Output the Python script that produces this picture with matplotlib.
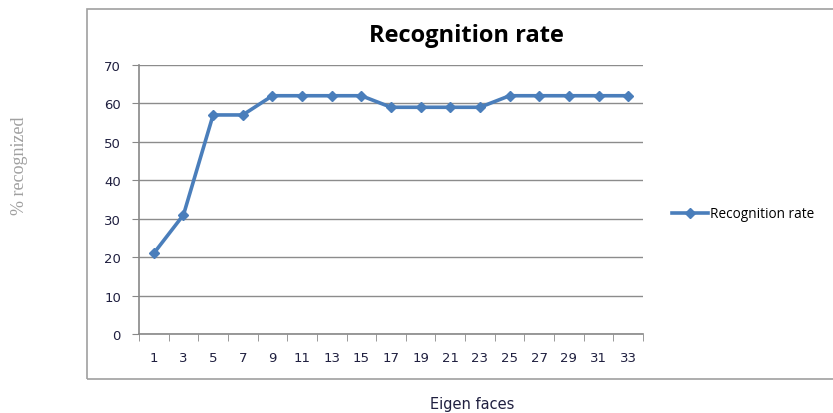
import matplotlib.pyplot as plt
from matplotlib.patches import Rectangle

eigen_faces = [1, 3, 5, 7, 9, 11, 13, 15, 17, 19, 21, 23, 25, 27, 29, 31, 33]
recognition = [21, 31, 57, 57, 62, 62, 62, 62, 59, 59, 59, 59, 62, 62, 62, 62, 62]
y_ticks = [0, 10, 20, 30, 40, 50, 60, 70]

W, H = 833, 414
fig = plt.figure(figsize=(W / 100, H / 100), dpi=100)

# outer chart border (runs off the right edge)
fig.patches.append(Rectangle((87 / W, 1 - 380 / H), 760 / W, 370 / H,
                             transform=fig.transFigure, fill=False,
                             edgecolor="#a0a0a0", lw=1.2))

ax = fig.add_axes([139 / W, 1 - 335 / H, 504 / W, 269 / H])
line_color = "#4a7ebb"
ax.plot(eigen_faces, recognition, color=line_color, lw=2.6, marker="D",
        markersize=5.5, label="Recognition rate", clip_on=False, zorder=3)

ax.set_xlim(0, 34)
ax.set_ylim(0, 70)
ax.set_yticks(y_ticks)
ax.set_xticks(eigen_faces)
ax.set_xticks(range(0, 35, 2), minor=True)
ax.tick_params(axis="x", which="major", length=0, pad=12,
               labelsize=9.5, labelcolor="#202040")
ax.tick_params(axis="x", which="minor", length=5, color="#888888",
               direction="out")
ax.tick_params(axis="y", length=5, color="#888888", labelsize=9.5,
               labelcolor="#202040", pad=8)
for tl in ax.get_xticklabels() + ax.get_yticklabels():
    tl.set_family("DejaVu Sans")

ax.grid(axis="y", color="#8c8c8c", lw=1)
ax.set_axisbelow(True)
for s in ["top", "right"]:
    ax.spines[s].set_visible(False)
for s in ["left", "bottom"]:
    ax.spines[s].set_color("#888888")
    ax.spines[s].set_linewidth(1.2)

fig.text(466 / W, 1 - 36 / H, "Recognition rate", ha="center", va="center",
         fontsize=17, fontweight="bold", family="Open Sans")
fig.text(20 / W, 1 - 166 / H, "% recognized", rotation=90, ha="center",
         va="center", fontsize=13, color="#a0a0a0", family="Liberation Serif")
fig.text(472 / W, 1 - 405 / H, "Eigen faces", ha="center", va="center",
         fontsize=10.5, color="#202040", family="DejaVu Sans")

leg = fig.legend(loc="center left", bbox_to_anchor=(660 / W, 1 - 215 / H),
                 frameon=False, handlelength=2.6,
                 handletextpad=0.2, prop={"family": "Open Sans", "size": 9.8})

fig.savefig("out.png", dpi=100)
